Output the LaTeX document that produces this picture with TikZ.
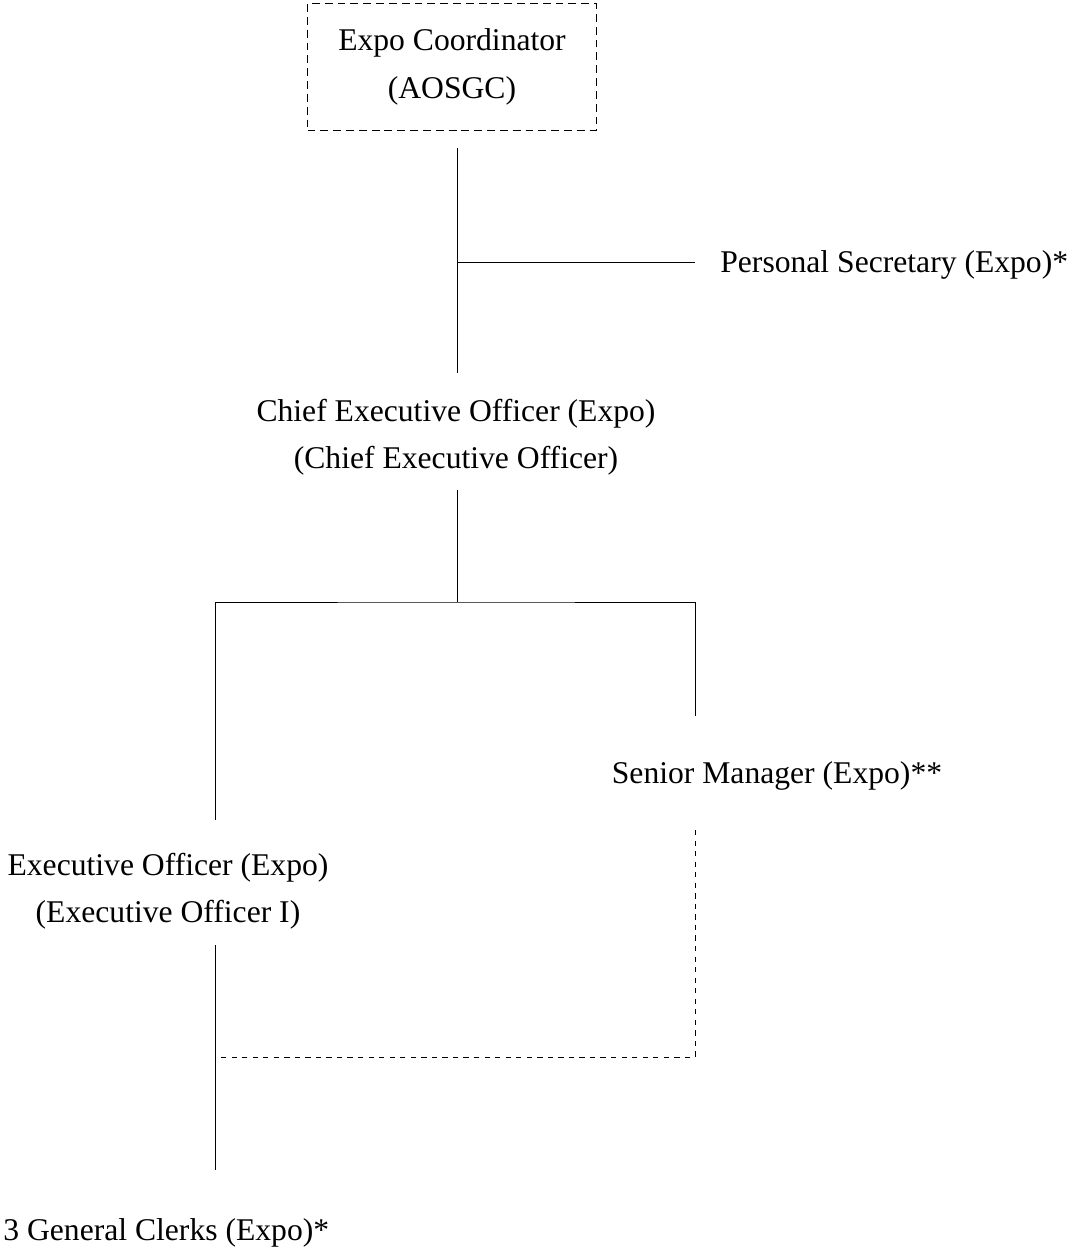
\documentclass[tikz,border=0pt]{standalone}
\usepackage{fontspec}
\setmainfont{Liberation Serif}
\usetikzlibrary{positioning}

\begin{document}
\begin{tikzpicture}[x=0.02cm, y=-0.02cm]
    \tikzstyle{post} = [align=center, font=\fontsize{18}{27}\selectfont, inner sep=0pt]
    \tikzstyle{headbox} = [post, draw, line width=0.6pt, dash pattern=on 4.5pt off 2.8pt, minimum width=5.78cm, minimum height=2.54cm]
    \tikzstyle{link} = [line width=0.55pt]
    \tikzstyle{dotlink} = [link, dash pattern=on 3pt off 3pt]

    \useasboundingbox (0,0) rectangle (1068,1248);

    \node [headbox] (coord) at (452,67) {Expo Coordinator\\(AOSGC)};
    \node [post, anchor=west] (secretary) at (720,265) {Personal Secretary (Expo)*};
    \node [post] (ceo) at (456,437) {Chief Executive Officer (Expo)\\(Chief Executive Officer)};
    \node [post] (senior) at (777,776) {Senior Manager (Expo)**};
    \node [post] (exec) at (168,891) {Executive Officer (Expo)\\(Executive Officer I)};
    \node [post, anchor=west] (clerks) at (3,1233) {3 General Clerks (Expo)*};

    \coordinate (coordbot) at (457,148);
    \coordinate (ceotop) at (457,373);
    \coordinate (psjoin) at (457,262);
    \coordinate (psend) at (695,262);
    \coordinate (ceobot) at (457,490);
    \coordinate (split) at (457,602);
    \coordinate (exectop) at (215,820);
    \coordinate (seniortop) at (695,716);
    \coordinate (seniorbot) at (695,830);
    \coordinate (join) at (215,1057);
    \coordinate (execbot) at (215,945);
    \coordinate (clerkstop) at (215,1170);

    \draw [link] (coordbot) -- (ceotop);
    \draw [link] (psjoin) -- (psend);
    \draw [link] (ceobot) -- (split);
    \draw [link] (exectop) |- (split) -| (seniortop);
    \draw [dotlink] (seniorbot) |- (join);
    \draw [link] (execbot) -- (clerkstop);
\end{tikzpicture}
\end{document}
